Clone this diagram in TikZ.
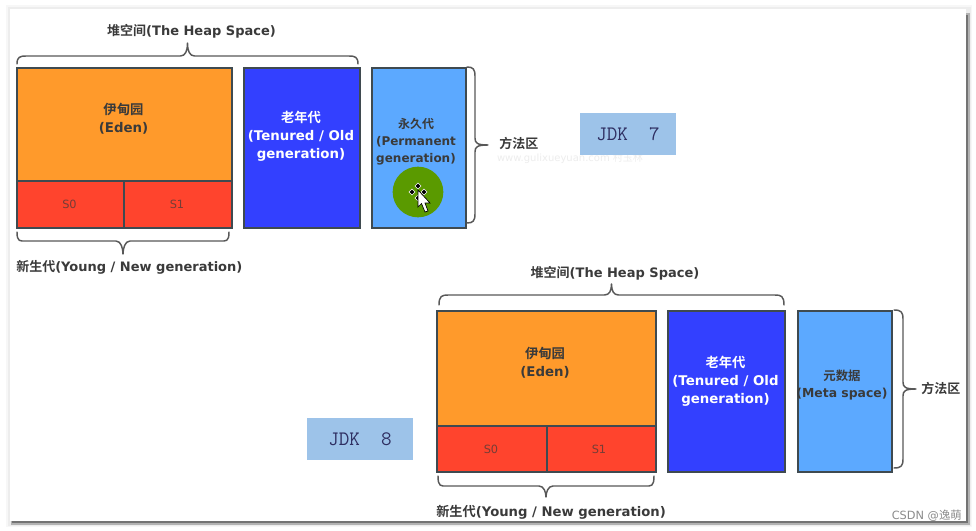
\documentclass[tikz,border=0pt]{standalone}
\usepackage{fontspec}
\setmainfont{DejaVu Sans}
\newfontfamily\cjk{Noto Sans CJK SC}[BoldFont={* Bold}]
\usetikzlibrary{calc}
\definecolor{edenc}{HTML}{FF9A2B}
\definecolor{survc}{HTML}{FF442D}
\definecolor{oldc}{HTML}{3340FF}
\definecolor{permc}{HTML}{5CA9FF}
\definecolor{jdkc}{HTML}{9DC3E9}
\definecolor{edgec}{HTML}{3F4A50}
\definecolor{inkc}{HTML}{3A3A3A}
\definecolor{cursorc}{HTML}{5A9A00}
\tikzset{
 x=0.75pt,y=-0.75pt,
 region/.style={draw=edgec,line width=1.5pt,inner sep=0pt,anchor=north west},
 regiontext/.style={inner sep=0pt,anchor=north,align=center,font=\fontsize{10pt}{13.5pt}\selectfont\bfseries},
 brace/.style={draw=inkc!85,line width=1.1pt,line cap=round,line join=round},
 lab/.style={text=inkc,font=\fontsize{9.75pt}{12pt}\selectfont\bfseries,inner sep=0pt},
 survlab/.style={text=inkc!70!survc,font=\fontsize{8.5pt}{10pt}\selectfont,inner sep=0pt},
 jdkbox/.style={fill=jdkc,text=inkc!80!blue,inner sep=0pt,font=\ttfamily\fontsize{15.4pt}{18pt}\selectfont},
}
\newcommand{\regionbox}[6]{%
  \node[region,fill=#6,minimum width=(#4-#2)*0.75pt,minimum height=(#5-#3)*0.75pt] (#1) at (#2,#3) {};}
\newcommand{\hbrace}[5]{%
  \coordinate (m) at ({(#1+#2)/2},#4);
  \draw[brace] (#1,#3) .. controls (#1,{#5+1}) and ({#1+3},#5) .. ({#1+9},#5)
   -- ({(#1+#2)/2-7},#5) .. controls ({(#1+#2)/2-2},#5) and ({(#1+#2)/2},{(#5+#4)/2+1}) .. (m)
   .. controls ({(#1+#2)/2},{(#5+#4)/2+1}) and ({(#1+#2)/2+2},#5) .. ({(#1+#2)/2+7},#5)
   -- ({#2-9},#5) .. controls ({#2-3},#5) and (#2,{#5+1}) .. (#2,#3);}
\newcommand{\vbrace}[5]{% xstart, ytop, ybot, xtip, xspine
  \coordinate (m) at (#4,{(#2+#3)/2});
  \draw[brace] (#1,#2) .. controls ({#5-2},#2) and (#5,{#2+2}) .. (#5,{#2+9})
   -- (#5,{(#2+#3)/2-7}) .. controls (#5,{(#2+#3)/2-2}) and ({#5+2},{(#2+#3)/2}) .. (m)
   .. controls ({#5+2},{(#2+#3)/2}) and (#5,{(#2+#3)/2+2}) .. (#5,{(#2+#3)/2+7})
   -- (#5,{#3-9}) .. controls (#5,{#3-2}) and ({#5-2},#3) .. (#1,#3);}
\newcommand{\movedot}[2]{\fill[black,draw=white,line width=0.35pt] (#1,{#2-3}) -- ({#1+3},#2) -- (#1,{#2+3}) -- ({#1-3},#2) -- cycle;}
\begin{document}
\begin{tikzpicture}
\useasboundingbox (0,0) rectangle (976,531);
\fill[white] (0,0) rectangle (976,531);
\fill[black!3] (6,5) rectangle (972,527);
\fill[black!7] (8,7) rectangle (971,526);
\fill[black!30] (11,13) rectangle (970,525);
\fill[black!55] (12,15) rectangle (967.5,522.5);
\fill[white] (10,9.5) rectangle (965.5,520.5);

% JDK 7
\regionbox{edenA}{16}{67}{231}{180}{edenc}
\regionbox{szeroA}{16}{180}{123}{227}{survc}
\regionbox{soneA}{123}{180}{231}{227}{survc}
\regionbox{oldA}{243}{67}{359}{227}{oldc}
\regionbox{permA}{371}{67}{465}{227}{permc}
\node[regiontext,text=inkc] (edenAt) at (123.5,103) {{\cjk 伊甸园}\\(Eden)};
\node[regiontext,text=white] (oldAt) at (301,111) {{\cjk 老年代}\\(Tenured / Old\\generation)};
\node[regiontext,text=inkc,font=\fontsize{9pt}{12.8pt}\selectfont\bfseries] (permAt) at (416,118) {{\cjk 永久代}\\(Permanent\\generation)};
\node[survlab] (szeroAt) at (69.5,204) {S0};
\node[survlab] (soneAt) at (177,204) {S1};
\node[circle,fill=cursorc,minimum size=38pt,inner sep=0pt] (cursorA) at (418,192) {};
\movedot{418}{186}\movedot{418}{198}\movedot{412}{192}\movedot{424}{192}
\draw[black,fill=white,line width=0.5pt] (418,190) -- (418,207) -- (421.5,203.5) -- (425,212) -- (428,211) -- (425,203) -- (430,203) -- cycle;
\hbrace{17}{358}{64}{43}{56}
\hbrace{17}{229}{232}{254}{241}
\vbrace{467}{67}{223}{488}{475}
\node[lab] (heapA) at (191.5,31) {{\cjk 堆空间}(The Heap Space)};
\node[lab,anchor=west] (youngA) at (16,267) {{\cjk 新生代}(Young / New generation)};
\node[lab,anchor=west] (methodA) at (499,144) {\cjk 方法区};
\node[text=black!7,inner sep=0pt,font=\fontsize{7.5pt}{9pt}\selectfont] (markA) at (570,158) {www.gulixueyuan.com {\cjk 村玉林}};
\node[jdkbox,minimum width=72pt,minimum height=32pt] (jdkA) at (628,134) {JDK\ \ 7};

% JDK 8
\regionbox{edenB}{436}{310}{655}{425}{edenc}
\regionbox{szeroB}{436}{425}{546}{471}{survc}
\regionbox{soneB}{546}{425}{655}{471}{survc}
\regionbox{oldB}{667}{310}{784}{471}{oldc}
\regionbox{metaB}{797}{310}{891}{471}{permc}
\node[regiontext,text=inkc] (edenBt) at (545,347) {{\cjk 伊甸园}\\(Eden)};
\node[regiontext,text=white] (oldBt) at (725.5,356) {{\cjk 老年代}\\(Tenured / Old\\generation)};
\node[regiontext,text=inkc,font=\fontsize{9.3pt}{12.8pt}\selectfont\bfseries] (metaBt) at (842,370) {{\cjk 元数据}\\(Meta space)};
\node[survlab] (szeroBt) at (491,449) {S0};
\node[survlab] (soneBt) at (599,449) {S1};
\hbrace{439}{784}{305}{284}{295}
\hbrace{438}{654}{476}{497}{486}
\vbrace{894}{310}{468}{916}{903}
\node[lab] (heapB) at (615,273) {{\cjk 堆空间}(The Heap Space)};
\node[lab,anchor=west,font=\fontsize{9.9pt}{12pt}\selectfont\bfseries] (youngB) at (436,512) {{\cjk 新生代}(Young / New generation)};
\node[lab,anchor=west] (methodB) at (921,389) {\cjk 方法区};
\node[jdkbox,minimum width=79pt,minimum height=31pt] (jdkB) at (360,439) {\phantom{x}JDK\ \ 8\phantom{x}};
\node[anchor=east,inner sep=0pt,text=black!45,font=\fontsize{8.5pt}{10pt}\selectfont] (csdn) at (962,516) {CSDN @{\cjk 逸萌}};
\end{tikzpicture}
\end{document}
